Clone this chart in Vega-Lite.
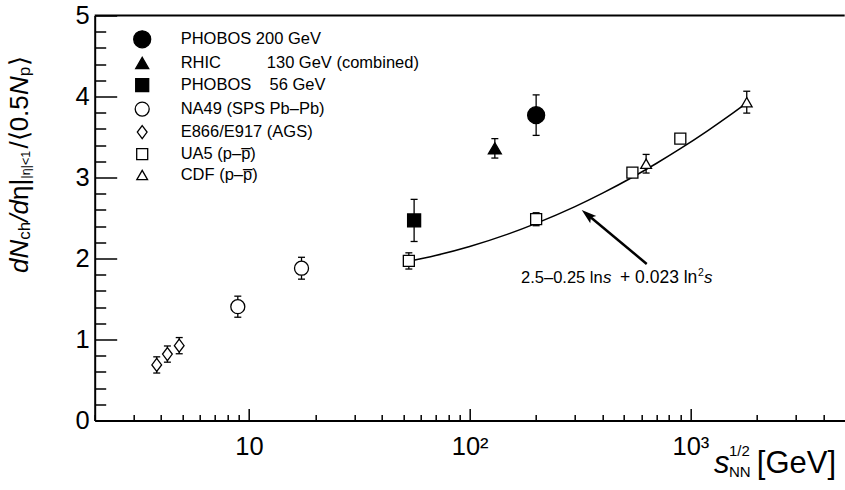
{
  "$schema": "https://vega.github.io/schema/vega-lite/v6.json",
  "width": 750,
  "height": 405,
  "autosize": {"type": "none"},
  "padding": {"left": 94.7, "top": 15.5, "right": 0, "bottom": 69.5},
  "background": "white",
  "data": {"values": [{}]},
  "datasets": {
    "pts": [
      {"series": "PHOBOS 200 GeV", "x": 200, "y": 3.77, "lo": 3.52, "hi": 4.02},
      {"series": "RHIC\u00a0\u00a0\u00a0\u00a0\u00a0\u00a0\u00a0\u00a0\u00a0 130 GeV (combined)", "x": 130, "y": 3.36, "lo": 3.24, "hi": 3.48},
      {"series": "PHOBOS\u00a0\u00a0\u00a0 56 GeV", "x": 56, "y": 2.47, "lo": 2.21, "hi": 2.73},
      {"series": "NA49 (SPS Pb–Pb)", "x": 8.9, "y": 1.405, "lo": 1.275, "hi": 1.535},
      {"series": "NA49 (SPS Pb–Pb)", "x": 17.3, "y": 1.88, "lo": 1.745, "hi": 2.015},
      {"series": "E866/E917 (AGS)", "x": 3.82, "y": 0.686, "lo": 0.586, "hi": 0.786},
      {"series": "E866/E917 (AGS)", "x": 4.27, "y": 0.82, "lo": 0.72, "hi": 0.92},
      {"series": "E866/E917 (AGS)", "x": 4.83, "y": 0.924, "lo": 0.824, "hi": 1.024},
      {"series": "UA5 (p–p\u0305)", "x": 53, "y": 1.97, "lo": 1.87, "hi": 2.07},
      {"series": "UA5 (p–p\u0305)", "x": 200, "y": 2.485, "lo": 2.405, "hi": 2.565},
      {"series": "UA5 (p–p\u0305)", "x": 546, "y": 3.06, "lo": 3.01, "hi": 3.11},
      {"series": "UA5 (p–p\u0305)", "x": 900, "y": 3.48, "lo": 3.43, "hi": 3.53},
      {"series": "CDF (p–p\u0305)", "x": 630, "y": 3.17, "lo": 3.055, "hi": 3.285},
      {"series": "CDF (p–p\u0305)", "x": 1800, "y": 3.93, "lo": 3.795, "hi": 4.065}
    ],
    "fit": [
      {"x": 53, "y": 1.965},
      {"x": 70, "y": 2.037},
      {"x": 100, "y": 2.149},
      {"x": 150, "y": 2.304},
      {"x": 200, "y": 2.434},
      {"x": 300, "y": 2.641},
      {"x": 400, "y": 2.807},
      {"x": 546, "y": 3.003},
      {"x": 700, "y": 3.173},
      {"x": 900, "y": 3.356},
      {"x": 1200, "y": 3.58},
      {"x": 1500, "y": 3.764},
      {"x": 1800, "y": 3.922}
    ]
  },
  "config": {
    "font": "Liberation Sans",
    "view": {"stroke": null},
    "axis": {
      "grid": false,
      "domainColor": "black",
      "domainWidth": 2,
      "tickColor": "black",
      "tickWidth": 1.5,
      "labelColor": "black",
      "labelFont": "Liberation Sans",
      "labelFontSize": 25.5,
      "labelOverlap": false,
      "labelFlush": false,
      "labelBound": false
    },
    "legend": {
      "title": null,
      "orient": "none",
      "labelFontSize": 16.5,
      "labelFont": "Liberation Sans",
      "labelColor": "black",
      "labelOffset": 29,
      "rowPadding": 4.0,
      "symbolStrokeWidth": 1.3,
      "padding": 0,
      "labelLimit": 400
    }
  },
  "resolve": {"axis": {"x": "independent", "y": "independent"}},
  "layer": [
    {
      "data": {"name": "fit"},
      "mark": {"type": "line", "color": "black", "strokeWidth": 1.5, "interpolate": "monotone"},
      "encoding": {
        "x": {
          "field": "x", "type": "quantitative",
          "scale": {"type": "log", "domain": [2, 5000], "nice": false},
          "axis": {
            "title": null,
            "orient": "bottom",
            "values": [2, 3, 4, 5, 6, 7, 8, 9, 20, 30, 40, 50, 60, 70, 80, 90, 200, 300, 400, 500, 600, 700, 800, 900, 2000, 3000, 4000],
            "labels": false,
            "tickSize": -6
          }
        },
        "y": {
          "field": "y", "type": "quantitative",
          "scale": {"domain": [0, 5], "nice": false},
          "axis": {
            "title": null,
            "orient": "left",
            "values": [0.2, 0.4, 0.6, 0.8, 1.2, 1.4, 1.6, 1.8, 2.2, 2.4, 2.6, 2.8, 3.2, 3.4, 3.6, 3.8, 4.2, 4.4, 4.6, 4.8],
            "labels": false,
            "tickSize": -11
          }
        }
      }
    },
    {
      "data": {"name": "pts"},
      "mark": {"type": "rule", "color": "black", "strokeWidth": 1.3},
      "encoding": {
        "x": {
          "field": "x", "type": "quantitative",
          "axis": {
            "title": null,
            "orient": "bottom",
            "values": [10, 100, 1000],
            "labelExpr": "datum.value === 10 ? '10' : datum.value === 100 ? '10²' : datum.value === 1000 ? '10³' : ''",
            "domain": false,
            "tickSize": -12,
            "labelPadding": 26,
            "labelOverlap": false
          }
        },
        "y": {
          "field": "lo", "type": "quantitative",
          "axis": {
            "title": null,
            "orient": "left",
            "values": [0, 1, 2, 3, 4, 5],
            "format": "d",
            "domain": false,
            "tickSize": -22,
            "labelPadding": 27.5,
            "labelOverlap": false
          }
        },
        "y2": {"field": "hi"}
      }
    },
    {
      "data": {"name": "pts"},
      "mark": {"type": "tick", "orient": "horizontal", "color": "black", "size": 7, "thickness": 1.3, "opacity": 1},
      "encoding": {
        "x": {"field": "x", "type": "quantitative", "axis": null},
        "y": {"field": "lo", "type": "quantitative", "axis": null}
      }
    },
    {
      "data": {"name": "pts"},
      "mark": {"type": "tick", "orient": "horizontal", "color": "black", "size": 7, "thickness": 1.3, "opacity": 1},
      "encoding": {
        "x": {"field": "x", "type": "quantitative", "axis": null},
        "y": {"field": "hi", "type": "quantitative", "axis": null}
      }
    },
    {
      "data": {"name": "pts"},
      "mark": {"type": "point", "filled": true, "strokeWidth": 1.3, "opacity": 1},
      "encoding": {
        "x": {"field": "x", "type": "quantitative", "axis": null},
        "y": {"field": "y", "type": "quantitative", "axis": null},
        "shape": {
          "field": "series", "type": "nominal",
          "scale": {
            "domain": ["PHOBOS 200 GeV", "RHIC\u00a0\u00a0\u00a0\u00a0\u00a0\u00a0\u00a0\u00a0\u00a0 130 GeV (combined)", "PHOBOS\u00a0\u00a0\u00a0 56 GeV", "NA49 (SPS Pb–Pb)", "E866/E917 (AGS)", "UA5 (p–p\u0305)", "CDF (p–p\u0305)"],
            "range": ["circle", "triangle-up", "square", "circle", "M0,-1L0.75,0L0,1L-0.75,0Z", "square", "triangle-up"]
          },
          "legend": {"legendX": 38, "legendY": 14.3}
        },
        "fill": {
          "field": "series", "type": "nominal",
          "scale": {
            "domain": ["PHOBOS 200 GeV", "RHIC\u00a0\u00a0\u00a0\u00a0\u00a0\u00a0\u00a0\u00a0\u00a0 130 GeV (combined)", "PHOBOS\u00a0\u00a0\u00a0 56 GeV", "NA49 (SPS Pb–Pb)", "E866/E917 (AGS)", "UA5 (p–p\u0305)", "CDF (p–p\u0305)"],
            "range": ["black", "black", "black", "white", "white", "white", "white"]
          },
          "legend": {"legendX": 38, "legendY": 14.3}
        },
        "stroke": {
          "field": "series", "type": "nominal",
          "scale": {
            "domain": ["PHOBOS 200 GeV", "RHIC\u00a0\u00a0\u00a0\u00a0\u00a0\u00a0\u00a0\u00a0\u00a0 130 GeV (combined)", "PHOBOS\u00a0\u00a0\u00a0 56 GeV", "NA49 (SPS Pb–Pb)", "E866/E917 (AGS)", "UA5 (p–p\u0305)", "CDF (p–p\u0305)"],
            "range": ["black", "black", "black", "black", "black", "black", "black"]
          },
          "legend": {"legendX": 38, "legendY": 14.3}
        },
        "size": {
          "field": "series", "type": "nominal",
          "scale": {
            "type": "ordinal",
            "domain": ["PHOBOS 200 GeV", "RHIC\u00a0\u00a0\u00a0\u00a0\u00a0\u00a0\u00a0\u00a0\u00a0 130 GeV (combined)", "PHOBOS\u00a0\u00a0\u00a0 56 GeV", "NA49 (SPS Pb–Pb)", "E866/E917 (AGS)", "UA5 (p–p\u0305)", "CDF (p–p\u0305)"],
            "range": [289, 169, 169, 196, 169, 121, 115]
          },
          "legend": {"legendX": 38, "legendY": 14.3}
        }
      }
    },
    {
      "mark": {"type": "rule", "color": "black", "strokeWidth": 2},
      "encoding": {"y": {"datum": 5, "axis": null}}
    },
    {
      "mark": {"type": "rule", "color": "black", "strokeWidth": 2.5},
      "encoding": {"x": {"datum": 634, "axis": null}, "y": {"datum": 1.933, "axis": null}, "x2": {"datum": 343.4}, "y2": {"datum": 2.537}}
    },
    {
      "mark": {"type": "point", "shape": "M0,0L0.55,1.75L0,1.4L-0.55,1.75Z", "size": 294, "angle": 309.8, "filled": true, "color": "black", "opacity": 1, "strokeWidth": 0},
      "encoding": {"x": {"datum": 321.8, "axis": null}, "y": {"datum": 2.6, "axis": null}}
    },
    {"mark": {"type": "text", "text": "2.5–0.25 ln", "align": "left", "baseline": "alphabetic", "fontSize": 16.5, "color": "black"}, "encoding": {"x": {"datum": 170.9, "axis": null}, "y": {"datum": 1.702, "axis": null}}},
    {"mark": {"type": "text", "text": "s", "align": "left", "baseline": "alphabetic", "fontSize": 17, "fontStyle": "italic", "color": "black"}, "encoding": {"x": {"datum": 401.9, "axis": null}, "y": {"datum": 1.702, "axis": null}}},
    {"mark": {"type": "text", "text": "+ 0.023 ln", "align": "left", "baseline": "alphabetic", "fontSize": 17.5, "color": "black"}, "encoding": {"x": {"datum": 479.9, "axis": null}, "y": {"datum": 1.702, "axis": null}}},
    {"mark": {"type": "text", "text": "2", "align": "left", "baseline": "alphabetic", "fontSize": 10.5, "color": "black"}, "encoding": {"x": {"datum": 1083, "axis": null}, "y": {"datum": 1.79, "axis": null}}},
    {"mark": {"type": "text", "text": "s", "align": "left", "baseline": "alphabetic", "fontSize": 17, "fontStyle": "italic", "color": "black"}, "encoding": {"x": {"datum": 1153, "axis": null}, "y": {"datum": 1.702, "axis": null}}},
    {"mark": {"type": "text", "text": "s", "align": "left", "baseline": "alphabetic", "fontSize": 31, "fontStyle": "italic", "color": "black"}, "encoding": {"x": {"datum": 1280, "axis": null}, "y": {"datum": -0.648, "axis": null}}},
    {"mark": {"type": "text", "text": "1/2", "align": "left", "baseline": "alphabetic", "fontSize": 15, "color": "black"}, "encoding": {"x": {"datum": 1496, "axis": null}, "y": {"datum": -0.438, "axis": null}}},
    {"mark": {"type": "text", "text": "NN", "align": "left", "baseline": "alphabetic", "fontSize": 15, "color": "black"}, "encoding": {"x": {"datum": 1496, "axis": null}, "y": {"datum": -0.698, "axis": null}}},
    {"mark": {"type": "text", "text": "[GeV]", "align": "left", "baseline": "alphabetic", "fontSize": 31, "color": "black"}, "encoding": {"x": {"datum": 2000, "axis": null}, "y": {"datum": -0.648, "axis": null}}},
    {"mark": {"type": "text", "text": "dN", "angle": 270, "align": "left", "baseline": "alphabetic", "fontSize": 26, "fontStyle": "italic", "color": "black"}, "encoding": {"x": {"datum": 1.0, "axis": null}, "y": {"datum": 1.822, "axis": null}}},
    {"mark": {"type": "text", "text": "ch", "angle": 270, "align": "left", "baseline": "alphabetic", "fontSize": 17, "color": "black"}, "encoding": {"x": {"datum": 1.02, "axis": null}, "y": {"datum": 2.232, "axis": null}}},
    {"mark": {"type": "text", "text": "/d", "angle": 270, "align": "left", "baseline": "alphabetic", "fontSize": 26, "fontStyle": "italic", "color": "black"}, "encoding": {"x": {"datum": 1.0, "axis": null}, "y": {"datum": 2.454, "axis": null}}},
    {"mark": {"type": "text", "text": "η|", "angle": 270, "align": "left", "baseline": "alphabetic", "fontSize": 26, "color": "black"}, "encoding": {"x": {"datum": 1.0, "axis": null}, "y": {"datum": 2.722, "axis": null}}},
    {"mark": {"type": "text", "text": "|η|<1", "angle": 270, "align": "left", "baseline": "alphabetic", "fontSize": 12.5, "color": "black"}, "encoding": {"x": {"datum": 1.02, "axis": null}, "y": {"datum": 2.989, "axis": null}}},
    {"mark": {"type": "text", "text": "/⟨0.5", "angle": 270, "align": "left", "baseline": "alphabetic", "fontSize": 26, "color": "black"}, "encoding": {"x": {"datum": 1.0, "axis": null}, "y": {"datum": 3.357, "axis": null}}},
    {"mark": {"type": "text", "text": "N", "angle": 270, "align": "left", "baseline": "alphabetic", "fontSize": 26, "fontStyle": "italic", "color": "black"}, "encoding": {"x": {"datum": 1.0, "axis": null}, "y": {"datum": 4.018, "axis": null}}},
    {"mark": {"type": "text", "text": "p", "angle": 270, "align": "left", "baseline": "alphabetic", "fontSize": 17, "color": "black"}, "encoding": {"x": {"datum": 1.02, "axis": null}, "y": {"datum": 4.25, "axis": null}}},
    {"mark": {"type": "text", "text": "⟩", "angle": 270, "align": "left", "baseline": "alphabetic", "fontSize": 26, "color": "black"}, "encoding": {"x": {"datum": 1.0, "axis": null}, "y": {"datum": 4.38, "axis": null}}}
  ]
}
